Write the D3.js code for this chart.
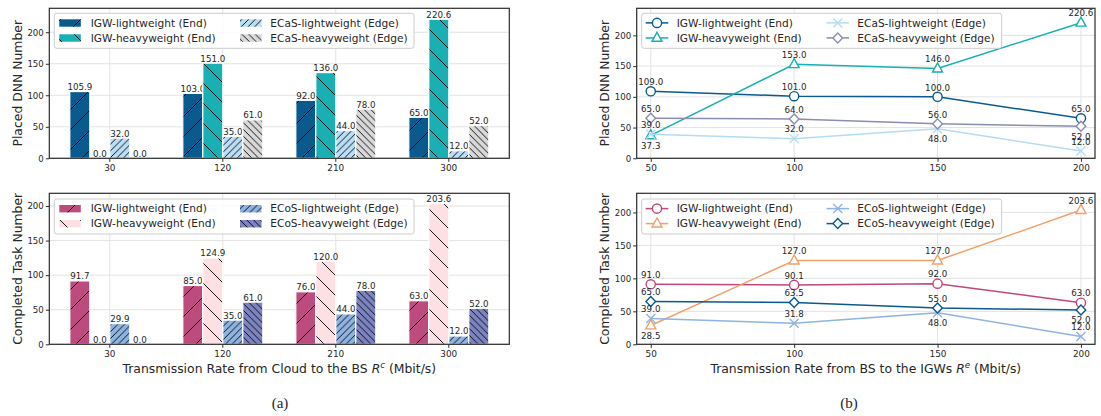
<!DOCTYPE html>
<html><head><meta charset="utf-8">
<script src="https://cdn.jsdelivr.net/npm/d3@7"></script>
<style>
body{margin:0;background:#fff}
svg{display:block}
text{font-family:"DejaVu Sans",sans-serif;fill:#262626}
</style>
</head><body>
<svg id="c" width="1101" height="416"></svg>
<script>
// ---------------- DATA ----------------
const barCategories = ["30", "120", "210", "300"];
const placedIgwLight = [105.9, 103.0, 92.0, 65.0];
const placedIgwHeavy = [0.0, 151.0, 136.0, 220.6];
const placedEcasLight = [32.0, 35.0, 44.0, 12.0];
const placedEcasHeavy = [0.0, 61.0, 78.0, 52.0];
const taskIgwLight = [91.7, 85.0, 76.0, 63.0];
const taskIgwHeavy = [0.0, 124.9, 120.0, 203.6];
const taskEcosLight = [29.9, 35.0, 44.0, 12.0];
const taskEcosHeavy = [0.0, 61.0, 78.0, 52.0];

const lineX = [50, 100, 150, 200];
const linePlacedIgwLight = [109.0, 101.0, 100.0, 65.0];
const linePlacedIgwHeavy = [37.3, 153.0, 146.0, 220.6];
const linePlacedEcasLight = [39.0, 32.0, 48.0, 12.0];
const linePlacedEcasHeavy = [65.0, 64.0, 56.0, 52.0];
const lineTaskIgwLight = [91.0, 90.1, 92.0, 63.0];
const lineTaskIgwHeavy = [28.5, 127.0, 127.0, 203.6];
const lineTaskEcosLight = [39.0, 31.8, 48.0, 12.0];
const lineTaskEcosHeavy = [65.0, 63.5, 55.0, 52.0];

const yTickValues = [0, 50, 100, 150, 200];
const lineXTicks = [50, 100, 150, 200];

// ---------------- STYLE ----------------
const svg = d3.select("#c");
const defs = svg.append("defs");
const fmt = d3.format(".1f");
let patId = 0;
function hatch(dir, P) {
  const id = "h" + (patId++);
  const p = defs.append("pattern").attr("id", id)
    .attr("patternUnits", "userSpaceOnUse").attr("width", P).attr("height", P);
  const d = dir === "/"
    ? `M0,${P} L${P},0 M-1,1 L1,-1 M${P-1},${P+1} L${P+1},${P-1}`
    : `M0,0 L${P},${P} M-1,${P-1} L1,${P+1} M${P-1},-1 L${P+1},1`;
  p.append("path").attr("d", d).attr("stroke", "#000").attr("stroke-width", 0.9).attr("fill", "none");
  return `url(#${id})`;
}
const SPARSE = 20, DENSE = 6.7;

const barPanels = [
  {x0: 49.3, x1: 509.3, y0: 8.3, y1: 158.3, yMax: 238, ylabel: "Placed DNN Number", legY: 13.3,
   series: [
     {name: "IGW-lightweight (End)", values: placedIgwLight, color: "#0b5a8e", dir: "/", P: SPARSE},
     {name: "IGW-heavyweight (End)", values: placedIgwHeavy, color: "#1aafb3", dir: "\\", P: SPARSE},
     {name: "ECaS-lightweight (Edge)", values: placedEcasLight, color: "#badef5", dir: "/", P: DENSE},
     {name: "ECaS-heavyweight (Edge)", values: placedEcasHeavy, color: "#d8d8d8", dir: "\\", P: DENSE}]},
  {x0: 49.3, x1: 509.3, y0: 193.3, y1: 344.3, yMax: 218.4, ylabel: "Completed Task Number", legY: 199,
   series: [
     {name: "IGW-lightweight (End)", values: taskIgwLight, color: "#bd4c7e", dir: "/", P: SPARSE},
     {name: "IGW-heavyweight (End)", values: taskIgwHeavy, color: "#fde0e3", dir: "\\", P: SPARSE},
     {name: "ECoS-lightweight (Edge)", values: taskEcosLight, color: "#8db3e1", dir: "/", P: DENSE},
     {name: "ECoS-heavyweight (Edge)", values: taskEcosHeavy, color: "#7c83c1", dir: "\\", P: DENSE}]}
];

const linePanels = [
  {x0: 636.7, x1: 1095, y0: 8.3, y1: 158.3, yMax: 244, ylabel: "Placed DNN Number", legY: 13.3,
   series: [
     {name: "IGW-lightweight (End)", values: linePlacedIgwLight, color: "#0b5a8e", marker: "o", below: [0,0,0,0]},
     {name: "IGW-heavyweight (End)", values: linePlacedIgwHeavy, color: "#1aafb3", marker: "^", below: [1,0,0,0]},
     {name: "ECaS-lightweight (Edge)", values: linePlacedEcasLight, color: "#b5dcf4", marker: "x", below: [0,0,1,0]},
     {name: "ECaS-heavyweight (Edge)", values: linePlacedEcasHeavy, color: "#8a8db0", marker: "D", below: [0,0,0,1]}]},
  {x0: 636.7, x1: 1095, y0: 193.3, y1: 344.3, yMax: 229, ylabel: "Completed Task Number", legY: 199,
   series: [
     {name: "IGW-lightweight (End)", values: lineTaskIgwLight, color: "#c0477b", marker: "o", below: [0,0,0,0]},
     {name: "IGW-heavyweight (End)", values: lineTaskIgwHeavy, color: "#f1a06b", marker: "^", below: [1,0,0,0]},
     {name: "ECoS-lightweight (Edge)", values: lineTaskEcosLight, color: "#8fb3e2", marker: "x", below: [0,0,1,0]},
     {name: "ECoS-heavyweight (Edge)", values: lineTaskEcosHeavy, color: "#0b5a8e", marker: "D", below: [0,0,0,1]}]}
];

const GRID = "#e3e3e3", FRAME = "#2b2b2b";

function frameAndYAxis(g, p, y) {
  // y grid
  g.append("g").selectAll("line").data(yTickValues).join("line")
    .attr("x1", p.x0).attr("x2", p.x1).attr("y1", d => y(d)).attr("y2", d => y(d))
    .attr("stroke", GRID).attr("stroke-width", 1);
  const ax = g.append("g").attr("transform", `translate(${p.x0},0)`)
    .call(d3.axisLeft(y).tickValues(yTickValues).tickSize(3.5).tickPadding(2));
  ax.select(".domain").remove();
  ax.selectAll(".tick line").attr("stroke", FRAME).attr("stroke-width", 1);
  ax.selectAll(".tick text").attr("font-size", 8.6).attr("font-family", "DejaVu Sans").attr("fill", "#262626");
  g.append("text").attr("transform", `translate(${p.x0 - 32},${(p.y0 + p.y1) / 2}) rotate(-90)`)
    .attr("text-anchor", "middle").attr("dy", "0.35em").attr("font-size", 12.4).text(p.ylabel);
}
function frame(g, p) {
  g.append("rect").attr("x", p.x0).attr("y", p.y0).attr("width", p.x1 - p.x0).attr("height", p.y1 - p.y0)
    .attr("fill", "none").attr("stroke", FRAME).attr("stroke-width", 1.2);
}
function styleXAxis(ax) {
  ax.select(".domain").remove();
  ax.selectAll(".tick line").attr("stroke", FRAME).attr("stroke-width", 1);
  ax.selectAll(".tick text").attr("font-size", 8.9).attr("font-family", "DejaVu Sans").attr("fill", "#262626");
}
function legendBox(g, x0, x1, y0) {
  g.append("rect").attr("x", x0).attr("y", y0).attr("width", x1 - x0).attr("height", 35)
    .attr("rx", 2.5).attr("fill", "#fff").attr("fill-opacity", 0.85).attr("stroke", "#cccccc").attr("stroke-width", 1);
}

// ---------------- BAR PANELS ----------------
barPanels.forEach(p => {
  const g = svg.append("g");
  const x = d3.scaleBand().domain(barCategories).range([p.x0, p.x1]).paddingInner(0.292).paddingOuter(0.1814);
  const keys = p.series.map(s => s.name);
  const xs = d3.scaleBand().domain(keys).range([0, x.bandwidth()]);
  const y = d3.scaleLinear().domain([0, p.yMax]).range([p.y1, p.y0]);
  // vertical grid
  g.append("g").selectAll("line").data(barCategories).join("line")
    .attr("x1", d => x(d) + x.bandwidth() / 2).attr("x2", d => x(d) + x.bandwidth() / 2)
    .attr("y1", p.y0).attr("y2", p.y1).attr("stroke", GRID).attr("stroke-width", 1);
  frameAndYAxis(g, p, y);
  p.series.forEach(s => { s.fill = hatch(s.dir, s.P); });
  const groups = g.append("g").selectAll("g").data(barCategories).join("g")
    .attr("transform", d => `translate(${x(d)},0)`);
  p.series.forEach(s => {
    const sel = groups.append("g");
    sel.filter((d, i) => s.values[i] > 0).each(function (d) {
      const i = barCategories.indexOf(d);
      const v = s.values[i];
      const gg = d3.select(this);
      const bx = xs(s.name), bw = xs.bandwidth(), by = y(v), bh = y(0) - y(v);
      gg.append("rect").attr("x", bx).attr("y", by).attr("width", bw).attr("height", bh).attr("fill", s.color);
      gg.append("rect").attr("x", bx).attr("y", by).attr("width", bw).attr("height", bh).attr("fill", s.fill)
        .attr("transform", `translate(${-x(d)},0)`).attr("x", bx + x(d));
      gg.append("rect").attr("x", bx).attr("y", by).attr("width", bw).attr("height", bh)
        .attr("fill", "none").attr("stroke", "#fff").attr("stroke-width", 1.2);
    });
    sel.append("text").attr("x", xs(s.name) + xs.bandwidth() / 2)
      .attr("y", (d, i) => y(s.values[i]) - 1.6)
      .attr("text-anchor", "middle").attr("font-size", 8.7)
      .text((d, i) => fmt(s.values[i]));
  });
  frame(g, p);
  const ax = g.append("g").attr("transform", `translate(0,${p.y1})`)
    .call(d3.axisBottom(x).tickSize(3.5).tickPadding(3));
  styleXAxis(ax);
  // legend
  legendBox(g, 54.3, 414, p.legY);
  const colX = [{h: 59.3, t: 90.7}, {h: 240, t: 270.3}];
  p.series.forEach((s, k) => {
    const c = colX[Math.floor(k / 2)], ry = p.legY + 9.6 + (k % 2) * 15;
    g.append("rect").attr("x", c.h).attr("y", ry - 3.6).attr("width", 21.5).attr("height", 7.4).attr("fill", s.color);
    g.append("rect").attr("x", c.h).attr("y", ry - 3.6).attr("width", 21.5).attr("height", 7.4).attr("fill", s.fill);
    g.append("text").attr("x", c.t).attr("y", ry).attr("dy", "0.35em").attr("font-size", 10.6).text(s.name);
  });
});

// ---------------- LINE PANELS ----------------
function marker(sel, type, color) {
  if (type === "o") sel.append("circle").attr("r", 4.6).attr("fill", "#fff").attr("stroke", color).attr("stroke-width", 1.4);
  else if (type === "^") sel.append("path").attr("d", "M0,-5.6 L5,3.4 L-5,3.4 Z").attr("fill", "#fff").attr("stroke", color).attr("stroke-width", 1.4);
  else if (type === "D") sel.append("path").attr("d", "M0,-5 L4.8,0 L0,5 L-4.8,0 Z").attr("fill", "#fff").attr("stroke", color).attr("stroke-width", 1.4);
  else if (type === "x") sel.append("path").attr("d", "M-4.5,-4.5 L4.5,4.5 M-4.5,4.5 L4.5,-4.5").attr("fill", "none").attr("stroke", color).attr("stroke-width", 1.4);
}
linePanels.forEach(p => {
  const g = svg.append("g");
  const x = d3.scaleLinear().domain([45.1, 204.9]).range([p.x0, p.x1]);
  const y = d3.scaleLinear().domain([0, p.yMax]).range([p.y1, p.y0]);
  g.append("g").selectAll("line").data(lineXTicks).join("line")
    .attr("x1", d => x(d)).attr("x2", d => x(d)).attr("y1", p.y0).attr("y2", p.y1)
    .attr("stroke", GRID).attr("stroke-width", 1);
  frameAndYAxis(g, p, y);
  const line = d3.line().x((d, i) => x(lineX[i])).y(d => y(d));
  p.series.forEach(s => {
    g.append("path").attr("d", line(s.values)).attr("fill", "none").attr("stroke", s.color).attr("stroke-width", 1.5);
    s.values.forEach((v, i) => {
      const m = g.append("g").attr("transform", `translate(${x(lineX[i])},${y(v)})`);
      marker(m, s.marker, s.color);
    });
  });
  p.series.forEach(s => {
    s.values.forEach((v, i) => {
      g.append("text").attr("x", x(lineX[i])).attr("y", y(v) + (s.below[i] ? 13.3 : -6.3))
        .attr("text-anchor", "middle").attr("font-size", 8.7).text(fmt(v));
    });
  });
  frame(g, p);
  const ax = g.append("g").attr("transform", `translate(0,${p.y1})`)
    .call(d3.axisBottom(x).tickValues(lineXTicks).tickFormat(d3.format("d")).tickSize(3.5).tickPadding(3));
  styleXAxis(ax);
  legendBox(g, 641.7, 1001.7, p.legY);
  const colX = [{h0: 645.7, h1: 668.3, t: 676.7}, {h0: 826.5, h1: 849, t: 857.3}];
  p.series.forEach((s, k) => {
    const c = colX[Math.floor(k / 2)], ry = p.legY + 9.6 + (k % 2) * 15;
    g.append("line").attr("x1", c.h0).attr("x2", c.h1).attr("y1", ry).attr("y2", ry).attr("stroke", s.color).attr("stroke-width", 1.5);
    marker(g.append("g").attr("transform", `translate(${(c.h0 + c.h1) / 2},${ry})`), s.marker, s.color);
    g.append("text").attr("x", c.t).attr("y", ry).attr("dy", "0.35em").attr("font-size", 10.6).text(s.name);
  });
});

// ---------------- AXIS TITLES ----------------
function xTitle(cx, sup) {
  const t = svg.append("text").attr("x", cx).attr("y", 372.5).attr("text-anchor", "middle").attr("font-size", 12.4);
  return t;
}
const t1 = xTitle(279.3);
t1.append("tspan").text("Transmission Rate from Cloud to the BS ");
t1.append("tspan").attr("font-style", "italic").text("R");
t1.append("tspan").attr("font-style", "italic").attr("font-size", 8.7).attr("dy", -5).text("c");
t1.append("tspan").attr("dy", 5).text(" (Mbit/s)");
const t2 = xTitle(865.8);
t2.append("tspan").text("Transmission Rate from BS to the IGWs ");
t2.append("tspan").attr("font-style", "italic").text("R");
t2.append("tspan").attr("font-style", "italic").attr("font-size", 8.7).attr("dy", -5).text("e");
t2.append("tspan").attr("dy", 5).text(" (Mbit/s)");

svg.append("text").attr("x", 280).attr("y", 407.5).attr("text-anchor", "middle")
  .style("font-family", "'Liberation Serif', serif").attr("font-size", 15).text("(a)");
svg.append("text").attr("x", 849).attr("y", 407.5).attr("text-anchor", "middle")
  .style("font-family", "'Liberation Serif', serif").attr("font-size", 15).text("(b)");
</script>
</body></html>
